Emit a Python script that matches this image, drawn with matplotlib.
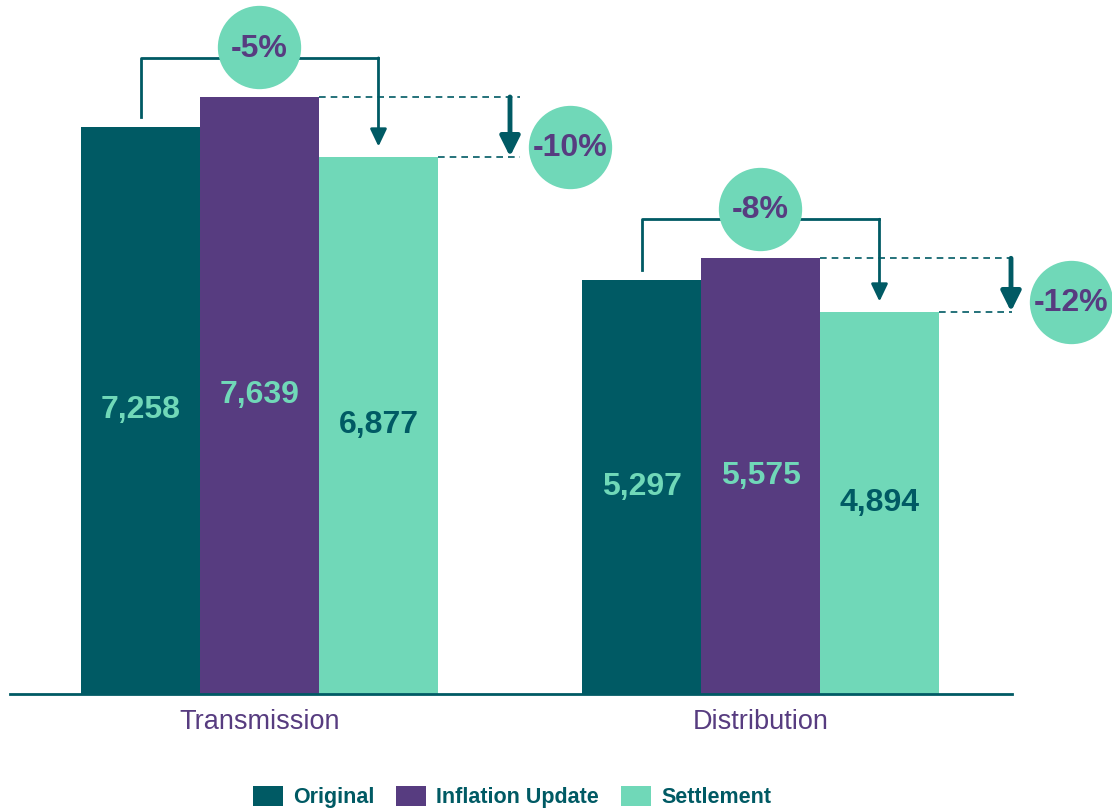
import matplotlib.pyplot as plt

plt.rcParams.update({
    "font.family": ["Liberation Sans", "DejaVu Sans"],
})

categories = ['Transmission', 'Distribution']
series = ['Original', 'Inflation Update', 'Settlement']
original = [7258, 5297]
inflation = [7639, 5575]
settlement = [6877, 4894]

teal = '#005A64'
purple = '#573C80'
mint = '#70D8B8'
colors = [teal, purple, mint]
label_colors = [mint, mint, teal]

fig = plt.figure(figsize=(11.12, 8.1), dpi=100)
ax = fig.add_axes([10 / 1112, 1 - 694 / 810, 1002 / 1112, 694 / 810])

w = 0.2375
values = [original, inflation, settlement]
bars = []
for i, (name, vals) in enumerate(zip(series, values)):
    xs = [g + (i - 1) * w for g in range(len(categories))]
    b = ax.bar(xs, vals, width=w, color=colors[i], label=name, zorder=2)
    bars.append(b)
    for x, v in zip(xs, vals):
        ax.text(x, v / 2, f'{v:,}', ha='center', va='center', fontsize=23,
                fontweight='bold', color=label_colors[i])

ax.set_xlim(-0.498, 1.502)
ax.set_ylim(0, 8880)

for s in ['top', 'right', 'left']:
    ax.spines[s].set_visible(False)
ax.spines['bottom'].set_color(teal)
ax.spines['bottom'].set_linewidth(2)
ax.set_yticks([])
ax.set_xticks(range(len(categories)))
ax.set_xticklabels(categories, fontsize=19.5, color=purple)
ax.tick_params(axis='x', length=0, pad=11)

for g in range(len(categories)):
    o, inf, st = original[g], inflation[g], settlement[g]
    top = max(o, inf) + 500
    xl, xr = g - w, g + w
    # bracket original -> settlement
    ax.plot([xl, xl, xr], [o + 128, top, top], color=teal, lw=2,
            solid_joinstyle='round', zorder=3)
    ax.annotate('', xy=(xr, st + 128), xytext=(xr, top),
                arrowprops=dict(arrowstyle='-|>,head_width=0.5,head_length=1.05',
                                color=teal, lw=2, shrinkA=0, shrinkB=0), zorder=3)
    pct = round((st / o - 1) * 100)
    ax.plot([g], [max(o, inf) + 635], 'o', ms=60, color=mint, mec='none',
            zorder=4, clip_on=False)
    ax.text(g, max(o, inf) + 620, f'{pct}%', ha='center', va='center',
            fontsize=23, fontweight='bold', color=purple, zorder=5)
    # inflation -> settlement
    xd = g + 0.52
    ax.plot([g + w / 2, xd], [inf, inf], color=teal, lw=1.2, ls=(0, (4, 3)), zorder=3)
    ax.plot([g + 1.5 * w, xd], [st, st], color=teal, lw=1.2, ls=(0, (4, 3)), zorder=3)
    ax.annotate('', xy=(g + 0.5, st), xytext=(g + 0.5, inf),
                arrowprops=dict(arrowstyle='-|>,head_width=0.6,head_length=1.2',
                                color=teal, lw=3.5, shrinkA=0, shrinkB=0), zorder=3)
    pct2 = round((st / inf - 1) * 100)
    ax.plot([g + 0.62], [st + 120], 'o', ms=60, color=mint, mec='none',
            zorder=4, clip_on=False)
    ax.text(g + 0.62, st + 105, f'{pct2}%', ha='center', va='center',
            fontsize=23, fontweight='bold', color=purple, zorder=5, clip_on=False)

leg = fig.legend(handles=bars, labels=series, loc='center',
                 bbox_to_anchor=(512 / 1112, 1 - 797 / 810), ncol=3, frameon=False,
                 handlelength=1.4, handleheight=1.07, handletextpad=0.47,
                 columnspacing=1.0, prop={'size': 15.5, 'weight': 'bold'})
for t in leg.get_texts():
    t.set_color(teal)

plt.savefig('out.png', dpi=100)
